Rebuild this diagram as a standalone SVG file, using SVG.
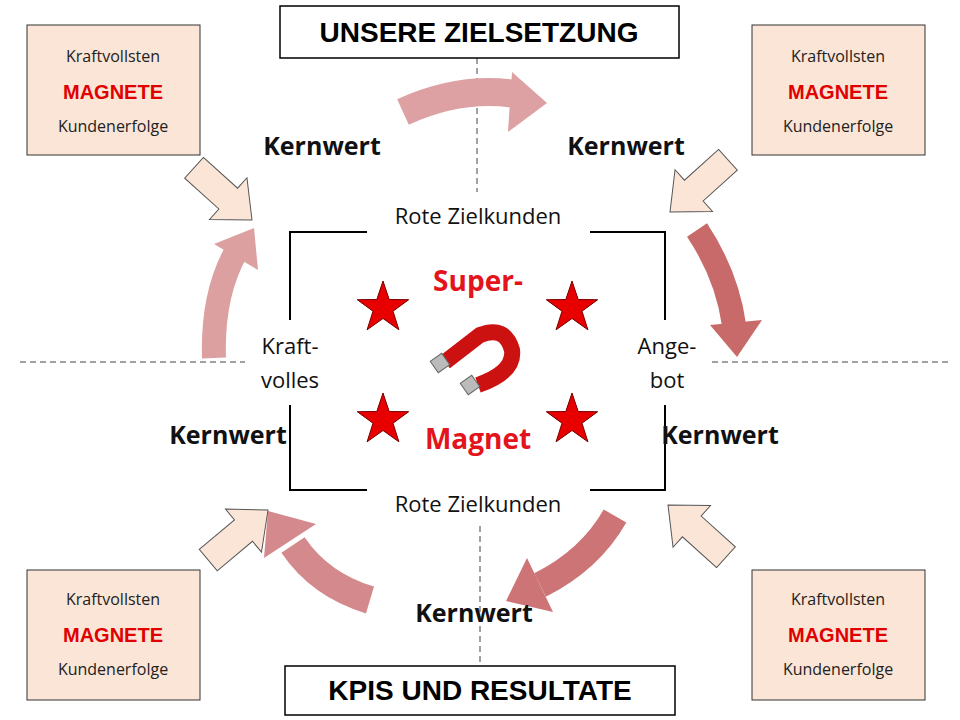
<svg xmlns="http://www.w3.org/2000/svg" width="960" height="720" viewBox="0 0 960 720">
<style>
.box{fill:#fbe5d6;stroke:#333;stroke-width:1}
.bt{font-family:"Open Sans","Liberation Sans",sans-serif;font-size:16px;text-anchor:middle;fill:#222}
.bm{font-family:"Liberation Sans",sans-serif;font-size:20px;font-weight:bold;text-anchor:middle;fill:#e00000}
.kw{font-family:"Open Sans","Liberation Sans",sans-serif;font-size:25px;font-weight:bold;text-anchor:middle;fill:#111}
.lb{font-family:"Open Sans","Liberation Sans",sans-serif;font-size:22px;text-anchor:middle;fill:#111}
.red{font-family:"Open Sans","Liberation Sans",sans-serif;font-size:28px;font-weight:bold;text-anchor:middle;fill:#e3141b}
.title{font-family:"Liberation Sans",sans-serif;font-size:28px;font-weight:bold;text-anchor:middle;fill:#000}
.dash{stroke:#444;stroke-width:1;stroke-dasharray:6,4;fill:none}
.br{stroke:#000;stroke-width:2;fill:none}
.ba{fill:#fbe5d6;stroke:#555;stroke-width:1}
.star{fill:#e80000;stroke:#700;stroke-width:1}
</style>
<defs>
<polygon id="blk" points="-78,-14 -32,-14 -32,-28 0,0 -32,28 -32,14 -78,14"/>
<polygon id="st" points="0,-27 6.2,-8.5 25.7,-8.3 10,3.2 15.9,21.8 0,10.5 -15.9,21.8 -10,3.2 -25.7,-8.3 -6.2,-8.5"/>
</defs>
<rect width="960" height="720" fill="#fff"/>
<g id="guides">
<line class="dash" x1="477" y1="58" x2="477" y2="192"/>
<line class="dash" x1="20" y1="362" x2="245" y2="362"/>
<line class="dash" x1="712" y1="362" x2="950" y2="362"/>
<line class="dash" x1="480" y1="526" x2="480" y2="666"/>
<polyline class="br" points="367,232 290,232 290,320"/>
<polyline class="br" points="590,232 665,232 665,320"/>
<polyline class="br" points="290,405 290,490 367,490"/>
<polyline class="br" points="665,405 665,490 590,490"/>
</g>
<g id="title-top"><rect x="280" y="6" width="399" height="52" fill="#fff" stroke="#000" stroke-width="1.5"/><text class="title" x="479" y="42">UNSERE ZIELSETZUNG</text></g>
<g id="title-bottom"><rect x="285" y="666" width="390" height="49" fill="#fff" stroke="#000" stroke-width="1.5"/><text class="title" x="480" y="700">KPIS UND RESULTATE</text></g>
<g id="box-tl"><rect class="box" x="27" y="25" width="173" height="130"/><text class="bt" x="113" y="62">Kraftvollsten</text><text class="bm" x="113" y="99">MAGNETE</text><text class="bt" x="113" y="132">Kundenerfolge</text></g>
<g id="box-tr"><rect class="box" x="752" y="25" width="173" height="130"/><text class="bt" x="838" y="62">Kraftvollsten</text><text class="bm" x="838" y="99">MAGNETE</text><text class="bt" x="838" y="132">Kundenerfolge</text></g>
<g id="box-bl"><rect class="box" x="27" y="570" width="173" height="130"/><text class="bt" x="113" y="605">Kraftvollsten</text><text class="bm" x="113" y="642">MAGNETE</text><text class="bt" x="113" y="675">Kundenerfolge</text></g>
<g id="box-br"><rect class="box" x="752" y="570" width="173" height="130"/><text class="bt" x="838" y="605">Kraftvollsten</text><text class="bm" x="838" y="642">MAGNETE</text><text class="bt" x="838" y="675">Kundenerfolge</text></g>
<g id="connectors">
<path d="M403,112 Q460,86 515,94" stroke="#dda0a3" stroke-width="28" fill="none"/>
<polygon points="512,72 547,103 508,132" fill="#dda0a3"/>
<path d="M697,230 Q727,275 734,325" stroke="#c96a6a" stroke-width="24" fill="none"/>
<polygon points="710,325 737,357 762,320" fill="#c96a6a"/>
<path d="M214,358 Q212,295 236,252" stroke="#dca0a0" stroke-width="24" fill="none"/>
<polygon points="214,244 254,228 258,270" fill="#dca0a0"/>
<path d="M370,600 Q320,585 293,545" stroke="#d48a8c" stroke-width="28" fill="none"/>
<polygon points="316,524 268,511 264,558" fill="#d48a8c"/>
<path d="M615,516 Q590,560 540,585" stroke="#cd7476" stroke-width="26" fill="none"/>
<polygon points="553,612 506,601 527,558" fill="#cd7476"/>
<use href="#blk" class="ba" transform="translate(252,220) rotate(42)"/>
<use href="#blk" class="ba" transform="translate(670,212) rotate(138)"/>
<use href="#blk" class="ba" transform="translate(268,510) rotate(-40)"/>
<use href="#blk" class="ba" transform="translate(668,505) rotate(-138)"/>
</g>
<g id="center">
<use href="#st" class="star" transform="translate(383,308)"/>
<use href="#st" class="star" transform="translate(572,308)"/>
<use href="#st" class="star" transform="translate(383,420)"/>
<use href="#st" class="star" transform="translate(572,420)"/>
<path d="M445,362 L480,335 Q505,325 512,350 Q515,372 478,385" stroke="#cc1111" stroke-width="16" fill="none"/>
<rect x="433" y="356" width="14" height="14" fill="#bbb" stroke="#666" transform="rotate(-35 440 363)"/>
<rect x="463" y="378" width="14" height="14" fill="#bbb" stroke="#666" transform="rotate(-35 470 385)"/>
<text class="red" x="478" y="291">Super-</text>
<text class="red" x="478" y="449">Magnet</text>
<text class="lb" x="478" y="224">Rote Zielkunden</text>
<text class="lb" x="478" y="512">Rote Zielkunden</text>
<text class="lb" x="290" y="354">Kraft-</text>
<text class="lb" x="290" y="388">volles</text>
<text class="lb" x="667" y="354">Ange-</text>
<text class="lb" x="667" y="388">bot</text>
</g>
<g id="labels">
<text class="kw" x="322" y="155">Kernwert</text>
<text class="kw" x="626" y="155">Kernwert</text>
<text class="kw" x="228" y="444">Kernwert</text>
<text class="kw" x="720" y="444">Kernwert</text>
<text class="kw" x="474" y="622">Kernwert</text>
</g>
</svg>
